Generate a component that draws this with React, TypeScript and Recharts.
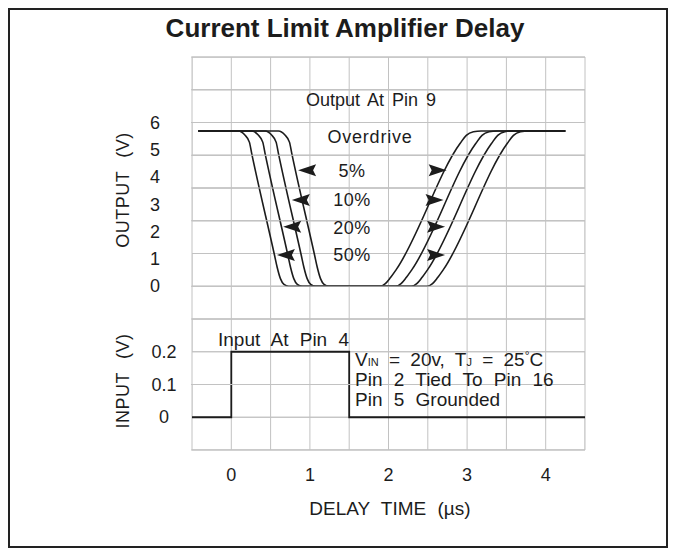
import React from 'react'
import { LineChart, Line, XAxis, YAxis, CartesianGrid, ReferenceDot } from 'recharts'

type Pt = { t: number; v: number }

const FONT = '"Liberation Sans", Arial, Helvetica, sans-serif'
const INK = '#1c1c1c'
const GRID = '#c2c2c2'

// axis ticks
const X_TICKS = [-0.5, 0, 0.5, 1, 1.5, 2, 2.5, 3, 3.5, 4, 4.5]
const X_LABELS = [0, 1, 2, 3, 4]
const OUT_TICKS = [0, 1, 2, 3, 4, 5, 6]
const IN_TICKS = [0, 0.1, 0.2]
// horizontal grid rows, in input-volt units (one row = 0.1 V)
const GRID_ROWS = [-0.1, 0, 0.1, 0.2, 0.3, 0.4, 0.5, 0.6, 0.7, 0.8, 0.9, 1.0, 1.1]
// rows that sit under a data trace are left to the grid below the traces
const UNDER_TRACE = [0, 0.2, 0.5]

// output at pin 9, one curve per overdrive (fall, then recovery)
const OUT_5: Pt[] = [
  { t: -0.42, v: 5.71 }, { t: 0.6, v: 5.71 }, { t: 0.68, v: 5.57 }, { t: 0.74, v: 5.3 },
  { t: 0.77, v: 4.88 }, { t: 1.06, v: 1.14 }, { t: 1.095, v: 0.68 }, { t: 1.135, v: 0.28 },
  { t: 1.18, v: 0.07 }, { t: 1.24, v: 0 },
  { t: 1.89, v: 0 }, { t: 1.96, v: 0.1 }, { t: 2.02, v: 0.3 }, { t: 2.1, v: 0.62 },
  { t: 2.91, v: 5.25 }, { t: 2.99, v: 5.55 }, { t: 3.08, v: 5.68 }, { t: 3.18, v: 5.71 },
  { t: 4.25, v: 5.71 },
]
const OUT_10: Pt[] = [
  { t: -0.42, v: 5.71 }, { t: 0.43, v: 5.71 }, { t: 0.51, v: 5.57 }, { t: 0.57, v: 5.3 },
  { t: 0.6, v: 4.88 }, { t: 0.89, v: 1.14 }, { t: 0.925, v: 0.68 }, { t: 0.965, v: 0.28 },
  { t: 1.01, v: 0.07 }, { t: 1.07, v: 0 },
  { t: 2.09, v: 0 }, { t: 2.16, v: 0.1 }, { t: 2.22, v: 0.3 }, { t: 2.3, v: 0.62 },
  { t: 3.11, v: 5.25 }, { t: 3.19, v: 5.55 }, { t: 3.28, v: 5.68 }, { t: 3.38, v: 5.71 },
  { t: 4.25, v: 5.71 },
]
const OUT_20: Pt[] = [
  { t: -0.42, v: 5.71 }, { t: 0.26, v: 5.71 }, { t: 0.34, v: 5.57 }, { t: 0.4, v: 5.3 },
  { t: 0.43, v: 4.88 }, { t: 0.72, v: 1.14 }, { t: 0.755, v: 0.68 }, { t: 0.795, v: 0.28 },
  { t: 0.84, v: 0.07 }, { t: 0.9, v: 0 },
  { t: 2.29, v: 0 }, { t: 2.36, v: 0.1 }, { t: 2.42, v: 0.3 }, { t: 2.5, v: 0.62 },
  { t: 3.31, v: 5.25 }, { t: 3.39, v: 5.55 }, { t: 3.48, v: 5.68 }, { t: 3.58, v: 5.71 },
  { t: 4.25, v: 5.71 },
]
const OUT_50: Pt[] = [
  { t: -0.42, v: 5.71 }, { t: 0.09, v: 5.71 }, { t: 0.17, v: 5.57 }, { t: 0.23, v: 5.3 },
  { t: 0.26, v: 4.88 }, { t: 0.55, v: 1.14 }, { t: 0.585, v: 0.68 }, { t: 0.625, v: 0.28 },
  { t: 0.67, v: 0.07 }, { t: 0.73, v: 0 },
  { t: 2.49, v: 0 }, { t: 2.56, v: 0.1 }, { t: 2.62, v: 0.3 }, { t: 2.7, v: 0.62 },
  { t: 3.51, v: 5.25 }, { t: 3.59, v: 5.55 }, { t: 3.68, v: 5.68 }, { t: 3.78, v: 5.71 },
  { t: 4.25, v: 5.71 },
]

// input at pin 4
const INPUT: Pt[] = [
  { t: -0.5, v: 0 }, { t: 0, v: 0 }, { t: 0, v: 0.2 }, { t: 1.5, v: 0.2 },
  { t: 1.5, v: 0 }, { t: 4.5, v: 0 },
]

// arrow tips (falling side points left, rising side points right)
const ARROWS_FALL: Pt[] = [
  { t: 0.85, v: 4.27 }, { t: 0.77, v: 3.17 }, { t: 0.66, v: 2.19 }, { t: 0.58, v: 1.15 },
]
const ARROWS_RISE: Pt[] = [
  { t: 2.74, v: 4.27 }, { t: 2.7, v: 3.17 }, { t: 2.72, v: 2.19 }, { t: 2.72, v: 1.15 },
]

const SERIES = [OUT_5, OUT_10, OUT_20, OUT_50]
const OVERDRIVE = ['5%', '10%', '20%', '50%']
const OVERDRIVE_Y = [177, 206, 234, 261]

// grid rows as one serpentine path (turns fall on the frame edges)
const GRID_PATH: Pt[] = GRID_ROWS.flatMap((r, i) =>
  i % 2 === 0
    ? [{ t: -0.5, v: r }, { t: 4.5, v: r }]
    : [{ t: 4.5, v: r }, { t: -0.5, v: r }],
)
const GRID_TICK_ROWS = GRID_ROWS.filter(r => !UNDER_TRACE.includes(r))

const PLOT_W = 394

const tickText = (fmt: (v: number) => string, size = 18) => (props: any) => {
  const { x, y, payload } = props
  return (
    <text x={x} y={y} dy={6} textAnchor="middle" fontSize={size} fill={INK} fontFamily={FONT}>
      {fmt(payload.value)}
    </text>
  )
}

const noTick = () => <g />

const arrowLeft = (props: any) => {
  const { cx, cy } = props
  return <polygon points={`${cx},${cy} ${cx + 18},${cy - 6} ${cx + 15},${cy} ${cx + 18},${cy + 6}`} fill={INK} />
}

const arrowRight = (props: any) => {
  const { cx, cy } = props
  return <polygon points={`${cx},${cy} ${cx - 18},${cy - 6} ${cx - 15},${cy} ${cx - 18},${cy + 6}`} fill={INK} />
}

export default function App() {
  const txt = { fontFamily: FONT, fill: INK }
  return (
    <div style={{ position: 'absolute', left: 0, top: 0, width: 675, height: 550, background: '#fff' }}>
      <LineChart width={675} height={550} margin={{ top: 57, right: 89, bottom: 0, left: 190 }}>
        <XAxis
          dataKey="t"
          type="number"
          domain={[-0.5, 4.5]}
          ticks={X_TICKS}
          interval={0}
          allowDataOverflow
          height={100}
          axisLine={false}
          tickLine={false}
          tickSize={0}
          tickMargin={25}
          tick={tickText(v => (X_LABELS.includes(v) ? String(v) : ''))}
        />
        <YAxis
          yAxisId="out"
          type="number"
          domain={[-6.02, 8.43]}
          ticks={OUT_TICKS}
          interval={0}
          allowDataOverflow
          width={1}
          axisLine={false}
          tickLine={false}
          tickSize={0}
          tickMargin={36}
          tick={tickText(v => String(v))}
        />
        <YAxis
          yAxisId="in"
          type="number"
          domain={[-0.1, 1.1]}
          ticks={IN_TICKS}
          interval={0}
          allowDataOverflow
          width={1}
          axisLine={false}
          tickLine={false}
          tickSize={0}
          tickMargin={28}
          tick={tickText(v => String(v))}
        />
        {/* grid rows: right-hand axis whose tick lines reach across the plot */}
        <YAxis
          yAxisId="grid"
          orientation="right"
          type="number"
          domain={[-0.1, 1.1]}
          ticks={GRID_TICK_ROWS}
          interval={0}
          allowDataOverflow
          width={1}
          axisLine={false}
          tickSize={-PLOT_W}
          tickLine={{ stroke: GRID, strokeWidth: 1 }}
          tick={noTick}
        />
        <CartesianGrid yAxisId="grid" horizontalValues={GRID_ROWS} stroke={GRID} strokeWidth={1} />
        <Line
          data={GRID_PATH}
          dataKey="v"
          yAxisId="grid"
          type="linear"
          stroke={GRID}
          strokeWidth={1}
          dot={false}
          isAnimationActive={false}
        />
        {SERIES.map((data, i) => (
          <Line
            key={OVERDRIVE[i]}
            data={data}
            dataKey="v"
            yAxisId="out"
            type="monotone"
            stroke={INK}
            strokeWidth={1.6}
            dot={false}
            isAnimationActive={false}
          />
        ))}
        <Line
          data={INPUT}
          dataKey="v"
          yAxisId="in"
          type="linear"
          stroke={INK}
          strokeWidth={1.8}
          dot={false}
          isAnimationActive={false}
        />
        {ARROWS_FALL.map((a, i) => (
          <ReferenceDot key={'f' + i} x={a.t} y={a.v} yAxisId="out" r={0} shape={arrowLeft} />
        ))}
        {ARROWS_RISE.map((a, i) => (
          <ReferenceDot key={'r' + i} x={a.t} y={a.v} yAxisId="out" r={0} shape={arrowRight} />
        ))}
      </LineChart>

      <svg width={675} height={550} style={{ position: 'absolute', left: 0, top: 0, pointerEvents: 'none' }}>
        <rect x={9} y={9} width={658} height={538} fill="none" stroke="#222" strokeWidth={2} />
        <text x={345} y={37} textAnchor="middle" fontSize={26} fontWeight="bold" {...txt}>
          Current Limit Amplifier Delay
        </text>
        <text x={371} y={106} textAnchor="middle" fontSize={18} wordSpacing={3} {...txt}>
          Output At Pin 9
        </text>
        <text x={370} y={143} textAnchor="middle" fontSize={18} letterSpacing={0.8} {...txt}>
          Overdrive
        </text>
        {OVERDRIVE.map((p, i) => (
          <text key={p} x={352} y={OVERDRIVE_Y[i]} textAnchor="middle" fontSize={18} letterSpacing={0.5} {...txt}>
            {p}
          </text>
        ))}
        <text x={218} y={346} fontSize={19} wordSpacing={6} {...txt}>
          Input At Pin 4
        </text>
        <text x={355} y={366} fontSize={19} wordSpacing={5} {...txt}>
          V<tspan fontSize={11}>IN</tspan> = 20v, T<tspan fontSize={11}>J</tspan> = 25<tspan fontSize={12} dy={-6}>°</tspan><tspan dy={6}>C</tspan>
        </text>
        <text x={355} y={386} fontSize={19} wordSpacing={6} {...txt}>
          Pin 2 Tied To Pin 16
        </text>
        <text x={355} y={406} fontSize={19} wordSpacing={6} {...txt}>
          Pin 5 Grounded
        </text>
        <text
          x={0}
          y={0}
          transform="translate(123 190) rotate(-90)"
          dy={6}
          textAnchor="middle"
          fontSize={18}
          wordSpacing={8}
          letterSpacing={0.5}
          {...txt}
        >
          OUTPUT (V)
        </text>
        <text
          x={0}
          y={0}
          transform="translate(123 381) rotate(-90)"
          dy={6}
          textAnchor="middle"
          fontSize={18}
          wordSpacing={8}
          letterSpacing={0.5}
          {...txt}
        >
          INPUT (V)
        </text>
        <text x={390} y={515} textAnchor="middle" fontSize={19} wordSpacing={6} {...txt}>
          DELAY TIME (µs)
        </text>
      </svg>
    </div>
  )
}
